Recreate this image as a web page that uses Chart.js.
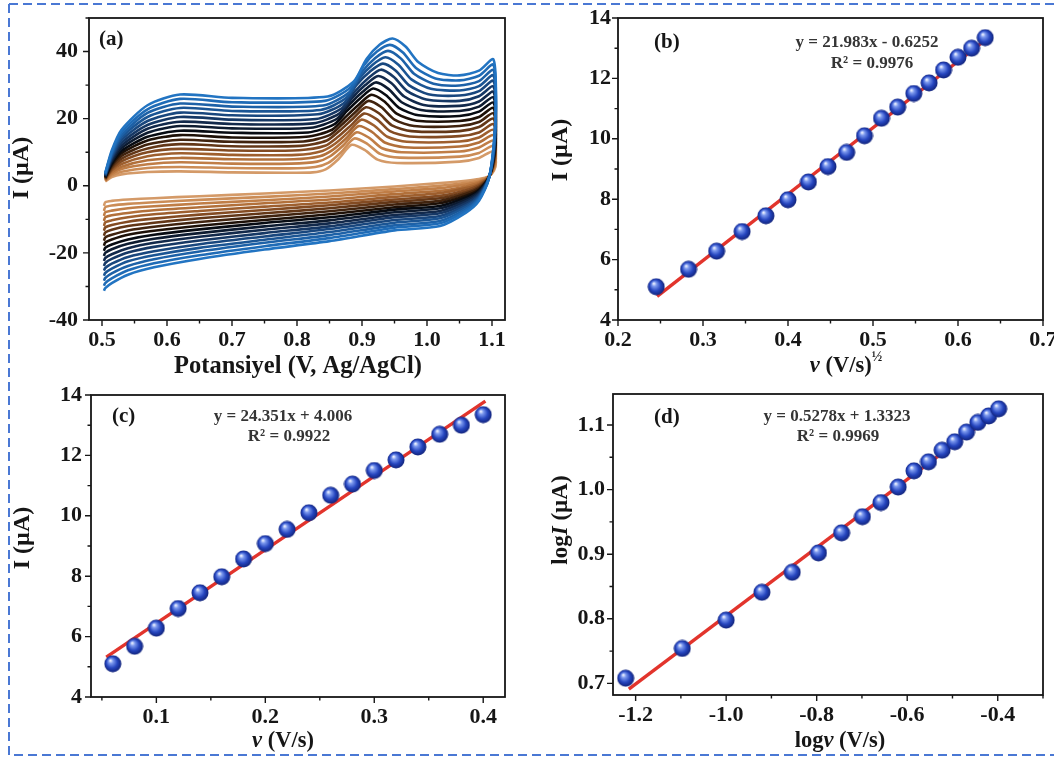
<!DOCTYPE html>
<html lang="tr">
<head>
<meta charset="utf-8">
<title>Döngüsel voltametri ve tarama hızı</title>
<script src="https://cdn.jsdelivr.net/npm/chart.js@4.4.1/dist/chart.umd.min.js"></script>
<style>
    html, body { margin: 0; padding: 0; background: #fff; }
    body { width: 1054px; height: 757px; position: relative; overflow: hidden; }
    canvas { position: absolute; }
</style>
</head>
<body>
<canvas id="grafikA" width="530" height="385" style="left:0;top:0"></canvas>
<canvas id="grafikB" width="524" height="385" style="left:530px;top:0"></canvas>
<canvas id="grafikC" width="530" height="377" style="left:0;top:380px"></canvas>
<canvas id="grafikD" width="524" height="377" style="left:530px;top:380px"></canvas>
<canvas id="cerceve" width="1054" height="757" style="left:0;top:0;pointer-events:none"></canvas>
<script>
// tarama hızları ve anodik pik akımları
const taramaHizlari = [0.06, 0.08, 0.10, 0.12, 0.14, 0.16, 0.18, 0.20, 0.22, 0.24, 0.26, 0.28, 0.30, 0.32, 0.34, 0.36, 0.38, 0.40];
const hizKarekok = [0.245, 0.283, 0.316, 0.346, 0.374, 0.400, 0.424, 0.447, 0.469, 0.490, 0.510, 0.529, 0.548, 0.566, 0.583, 0.600, 0.616, 0.632];
const hizLog = [-1.222, -1.097, -1.000, -0.921, -0.854, -0.796, -0.745, -0.699, -0.658, -0.620, -0.585, -0.553, -0.523, -0.495, -0.469, -0.444, -0.420, -0.398];
const pikAkim = [5.10, 5.68, 6.28, 6.93, 7.45, 7.98, 8.57, 9.08, 9.55, 10.10, 10.68, 11.05, 11.50, 11.85, 12.28, 12.70, 13.00, 13.35];
const pikAkimLog = [0.708, 0.754, 0.798, 0.841, 0.872, 0.902, 0.933, 0.958, 0.980, 1.004, 1.029, 1.043, 1.061, 1.074, 1.089, 1.104, 1.114, 1.125];

// doğrusal uydurmalar: eğim, kesim, R², çizgi aralığı
const uydurmaB = { egim: 21.983, kesim: -0.6252, r2: "0.9976", aralik: [0.246, 0.631] };
const uydurmaC = { egim: 24.351, kesim: 4.006, r2: "0.9922", aralik: [0.054, 0.402] };
const uydurmaD = { egim: 0.5278, kesim: 1.3323, r2: "0.9969", aralik: [-1.215, -0.399] };

// CV eğrileri (0.06 → 0.40 V/s), ileri tarama başı
const cvIleriBasE = [0.505, 0.515, 0.53, 0.57, 0.62, 0.70];
const cvIleriBasI = [
    [1.3, 2.6, 3.4, 4.1, 4.3, 4.0],
    [1.4, 3.1, 4.2, 5.3, 5.6, 5.3],
    [1.6, 3.5, 5.0, 6.4, 7.0, 6.6],
    [1.7, 4.0, 5.7, 7.6, 8.3, 7.9],
    [1.9, 4.5, 6.5, 8.8, 9.7, 9.2],
    [2.0, 4.9, 7.3, 10.0, 11.0, 10.5],
    [2.2, 5.4, 8.1, 11.1, 12.4, 11.8],
    [2.3, 5.9, 8.9, 12.3, 13.7, 13.1],
    [2.5, 6.3, 9.7, 13.5, 15.1, 14.4],
    [2.6, 6.8, 10.4, 14.6, 16.4, 15.8],
    [2.8, 7.2, 11.2, 15.8, 17.8, 17.1],
    [2.9, 7.7, 12.0, 17.0, 19.1, 18.4],
    [3.1, 8.2, 12.8, 18.1, 20.5, 19.7],
    [3.2, 8.6, 13.6, 19.3, 21.8, 21.0],
    [3.4, 9.1, 14.4, 20.5, 23.2, 22.3],
    [3.5, 9.6, 15.1, 21.7, 24.5, 23.6],
    [3.7, 10.0, 15.9, 22.8, 25.9, 24.9],
    [3.8, 10.5, 16.7, 24.0, 27.2, 26.2]
];
// oksidasyon piki çevresi (her eğrinin kendi potansiyelleri)
const cvPikE = [
    [0.784, 0.824, 0.844, 0.864, 0.884, 0.904, 0.924, 0.954],
    [0.788, 0.828, 0.848, 0.868, 0.888, 0.908, 0.928, 0.958],
    [0.791, 0.831, 0.851, 0.871, 0.891, 0.911, 0.931, 0.961],
    [0.795, 0.835, 0.855, 0.875, 0.895, 0.915, 0.935, 0.965],
    [0.799, 0.839, 0.859, 0.879, 0.899, 0.919, 0.939, 0.969],
    [0.803, 0.843, 0.863, 0.883, 0.903, 0.923, 0.943, 0.973],
    [0.806, 0.846, 0.866, 0.886, 0.906, 0.926, 0.946, 0.976],
    [0.810, 0.850, 0.870, 0.890, 0.910, 0.930, 0.950, 0.980],
    [0.814, 0.854, 0.874, 0.894, 0.914, 0.934, 0.954, 0.984],
    [0.817, 0.857, 0.877, 0.897, 0.917, 0.937, 0.957, 0.987],
    [0.821, 0.861, 0.881, 0.901, 0.921, 0.941, 0.961, 0.991],
    [0.825, 0.865, 0.885, 0.905, 0.925, 0.945, 0.965, 0.995],
    [0.829, 0.869, 0.889, 0.909, 0.929, 0.949, 0.969, 0.999],
    [0.832, 0.872, 0.892, 0.912, 0.932, 0.952, 0.972, 1.002],
    [0.836, 0.876, 0.896, 0.916, 0.936, 0.956, 0.976, 1.006],
    [0.840, 0.880, 0.900, 0.920, 0.940, 0.960, 0.980, 1.010],
    [0.843, 0.883, 0.903, 0.923, 0.943, 0.963, 0.983, 1.013],
    [0.847, 0.887, 0.907, 0.927, 0.947, 0.967, 0.987, 1.017]
];
const cvPikI = [
    [3.9, 4.0, 4.9, 8.0, 12.2, 10.7, 7.8, 6.8],
    [5.2, 5.6, 6.8, 10.0, 14.1, 12.5, 9.5, 8.4],
    [6.6, 7.2, 8.8, 12.0, 15.9, 14.3, 11.2, 10.0],
    [7.9, 8.8, 10.7, 14.0, 17.8, 16.1, 12.9, 11.5],
    [9.2, 10.4, 12.6, 16.0, 19.7, 17.9, 14.6, 13.1],
    [10.6, 11.9, 14.6, 18.0, 21.5, 19.8, 16.3, 14.7],
    [11.9, 13.5, 16.5, 20.0, 23.4, 21.6, 18.0, 16.3],
    [13.2, 15.1, 18.4, 22.0, 25.3, 23.4, 19.7, 17.8],
    [14.6, 16.7, 20.4, 24.0, 27.1, 25.2, 21.4, 19.4],
    [15.9, 18.3, 22.3, 26.0, 29.0, 27.0, 23.2, 21.0],
    [17.3, 19.9, 24.3, 28.0, 30.8, 28.8, 24.9, 22.6],
    [18.6, 21.5, 26.2, 30.0, 32.7, 30.6, 26.6, 24.1],
    [19.9, 23.1, 28.1, 32.0, 34.6, 32.4, 28.3, 25.7],
    [21.3, 24.6, 30.1, 34.0, 36.4, 34.3, 30.0, 27.3],
    [22.6, 26.2, 32.0, 36.0, 38.3, 36.1, 31.7, 28.9],
    [23.9, 27.8, 33.9, 38.0, 40.2, 37.9, 33.4, 30.4],
    [25.3, 29.4, 35.9, 40.0, 42.0, 39.7, 35.1, 32.0],
    [26.6, 31.0, 37.8, 42.0, 43.9, 41.5, 36.8, 33.6]
];
// ileri tarama sonu (dönüş noktasına kadar)
const cvIleriSonE = [1.05, 1.08, 1.102];
const cvIleriSonI = [
    [7.2, 8.3, 10.3], [8.7, 9.8, 11.9], [10.2, 11.4, 13.5], [11.7, 12.9, 15.1],
    [13.2, 14.4, 16.7], [14.8, 15.9, 18.4], [16.3, 17.5, 20.0], [17.8, 19.0, 21.6],
    [19.3, 20.5, 23.2], [20.8, 22.1, 24.8], [22.3, 23.6, 26.4], [23.8, 25.1, 28.0],
    [25.3, 26.7, 29.6], [26.9, 28.2, 31.3], [28.4, 29.7, 32.9], [29.9, 31.2, 34.5],
    [31.4, 32.8, 36.1], [32.9, 34.3, 37.7]
];
// geri tarama
const cvGeriE = [1.106, 1.103, 1.095, 1.08, 1.06, 1.02, 0.95, 0.85, 0.75, 0.65, 0.58, 0.54, 0.515, 0.505, 0.503];
const cvGeriI = [
    [7.0, 4.5, 2.8, 2.0, 1.5, 0.8, -0.2, -1.4, -2.3, -3.1, -3.7, -4.1, -4.5, -4.9, -6.0],
    [8.2, 5.0, 2.8, 1.6, 0.9, 0.0, -1.0, -2.3, -3.3, -4.2, -4.9, -5.4, -5.9, -6.4, -7.5],
    [9.4, 5.5, 2.7, 1.2, 0.4, -0.7, -1.7, -3.2, -4.3, -5.3, -6.1, -6.7, -7.4, -7.9, -9.0],
    [10.5, 6.0, 2.7, 0.9, -0.2, -1.5, -2.5, -4.1, -5.2, -6.4, -7.3, -8.1, -8.8, -9.4, -10.5],
    [11.7, 6.5, 2.6, 0.5, -0.7, -2.2, -3.3, -5.0, -6.2, -7.5, -8.5, -9.4, -10.3, -10.9, -12.0],
    [12.9, 7.0, 2.6, 0.1, -1.3, -3.0, -4.1, -5.8, -7.2, -8.6, -9.8, -10.7, -11.7, -12.4, -13.4],
    [14.1, 7.5, 2.5, -0.3, -1.9, -3.7, -4.8, -6.7, -8.2, -9.7, -11.0, -12.0, -13.1, -13.9, -14.9],
    [15.2, 8.0, 2.5, -0.7, -2.4, -4.5, -5.6, -7.6, -9.2, -10.8, -12.2, -13.3, -14.6, -15.4, -16.4],
    [16.4, 8.5, 2.4, -1.1, -3.0, -5.2, -6.4, -8.5, -10.2, -11.9, -13.4, -14.6, -16.0, -16.9, -17.9],
    [17.6, 9.0, 2.4, -1.4, -3.5, -6.0, -7.1, -9.4, -11.1, -13.0, -14.6, -16.0, -17.5, -18.5, -19.4],
    [18.8, 9.5, 2.3, -1.8, -4.1, -6.7, -7.9, -10.3, -12.1, -14.1, -15.8, -17.3, -18.9, -20.0, -20.9],
    [19.9, 10.0, 2.3, -2.2, -4.6, -7.5, -8.7, -11.2, -13.1, -15.2, -17.0, -18.6, -20.4, -21.5, -22.4],
    [21.1, 10.5, 2.2, -2.6, -5.2, -8.2, -9.4, -12.1, -14.1, -16.3, -18.2, -19.9, -21.8, -23.0, -23.9],
    [22.3, 11.0, 2.2, -3.0, -5.8, -9.0, -10.2, -12.9, -15.1, -17.4, -19.5, -21.2, -23.2, -24.5, -25.3],
    [23.5, 11.5, 2.1, -3.4, -6.3, -9.7, -11.0, -13.8, -16.1, -18.5, -20.7, -22.5, -24.7, -26.0, -26.8],
    [24.6, 12.0, 2.1, -3.7, -6.9, -10.5, -11.8, -14.7, -17.0, -19.6, -21.9, -23.9, -26.1, -27.5, -28.3],
    [25.8, 12.5, 2.0, -4.1, -7.4, -11.2, -12.5, -15.6, -18.0, -20.7, -23.1, -25.2, -27.6, -29.0, -29.8],
    [27.0, 13.0, 2.0, -4.5, -8.0, -12.0, -13.3, -16.5, -19.0, -21.8, -24.3, -26.5, -29.0, -30.5, -31.3]
];

// kahverengi → siyah → mavi
const cvRenkler = [
    "#d49a68", "#cb8c56", "#c07e47", "#b2703a", "#9e5f2e", "#834b22", "#633717", "#40230e", "#1d1007",
    "#070b12", "#0d1b30", "#12294b", "#163865", "#19477e", "#1b5594", "#1d61a7", "#1f6bb6", "#2274c2"
];

const SERIF = '"Liberation Serif", "Times New Roman", serif';
const YAZI_RENGI = "#161616";

function cvNoktalari(k) {
    const noktalar = [];
    cvIleriBasE.forEach((e, j) => noktalar.push({ x: e, y: cvIleriBasI[k][j] }));
    cvPikE[k].forEach((e, j) => noktalar.push({ x: e, y: cvPikI[k][j] }));
    cvIleriSonE.forEach((e, j) => noktalar.push({ x: e, y: cvIleriSonI[k][j] }));
    cvGeriE.forEach((e, j) => noktalar.push({ x: e, y: cvGeriI[k][j] }));
    return noktalar;
}

function noktaCiftleri(xler, yler) {
    return xler.map((x, i) => ({ x, y: yler[i] }));
}

function uydurmaCizgisi(u) {
    return u.aralik.map(x => ({ x, y: u.egim * x + u.kesim }));
}

function denklemYazisi(u) {
    const isaret = u.kesim < 0 ? "-" : "+";
    return `y = ${u.egim}x ${isaret} ${Math.abs(u.kesim)}`;
}

// parlak mavi küre işaretçi
function kureOlustur(cap) {
    const c = document.createElement("canvas");
    c.width = cap;
    c.height = cap;
    const g = c.getContext("2d");
    const r = cap / 2;
    const grad = g.createRadialGradient(r * 0.72, r * 0.62, r * 0.05, r, r, r);
    grad.addColorStop(0, "#eef2ff");
    grad.addColorStop(0.22, "#7b98ee");
    grad.addColorStop(0.6, "#2545bf");
    grad.addColorStop(1, "#0f1f72");
    g.fillStyle = grad;
    g.beginPath();
    g.arc(r, r, r - 0.5, 0, Math.PI * 2);
    g.fill();
    return c;
}
const kure = kureOlustur(18);

function buyukMu(deger, adim) {
    const r = deger / adim;
    return Math.abs(r - Math.round(r)) < 1e-6;
}

function eksen(min, max, adim, buyukAdim, ondalik, boyut, dolgu, yatay) {
    return {
        type: "linear",
        min, max,
        position: yatay ? "bottom" : "left",
        grid: { display: false, drawTicks: false },
        border: { display: false },
        ticks: {
            stepSize: adim,
            autoSkip: false,
            includeBounds: false,
            maxRotation: 0,
            padding: dolgu,
            color: YAZI_RENGI,
            font: { family: SERIF, size: 22, weight: "bold" },
            callback: v => buyukMu(v, buyukAdim) ? v.toFixed(ondalik) : ""
        },
        afterFit(scale) {
            if (yatay) scale.height = boyut;
            else scale.width = boyut;
            scale.paddingLeft = 0;
            scale.paddingRight = 0;
            scale.paddingTop = 0;
            scale.paddingBottom = 0;
        }
    };
}

// eksen başlıkları, panel harfleri, denklemler
const panelAyarlari = {
    grafikA: {
        xBuyuk: 0.1, yBuyuk: 20,
        xBaslik: [{ m: "Potansiyel (V, Ag/AgCl)" }], xKonum: [298, 367], xBoyut: 24.5,
        yBaslik: [{ m: "I (µA)" }], yKonum: [22, 168], yBoyut: 24,
        etiket: "(a)", etiketKonum: [99, 40]
    },
    grafikB: {
        xBuyuk: 0.1, yBuyuk: 2,
        xBaslik: [{ m: "ν", i: true }, { m: " (V/s)" }, { m: "½", s: true }], xKonum: [316, 366], xBoyut: 22.5,
        yBaslik: [{ m: "I (µA)" }], yKonum: [31, 150], yBoyut: 24,
        etiket: "(b)", etiketKonum: [124, 43],
        uydurma: uydurmaB, denklemKonum: [[337, 43], [342, 64]]
    },
    grafikC: {
        xBuyuk: 0.1, yBuyuk: 2,
        xBaslik: [{ m: "ν", i: true }, { m: " (V/s)" }], xKonum: [283, 361], xBoyut: 22.5,
        yBaslik: [{ m: "I (µA)" }], yKonum: [23, 158], yBoyut: 24,
        etiket: "(c)", etiketKonum: [112, 37],
        uydurma: uydurmaC, denklemKonum: [[283, 37], [289, 57]]
    },
    grafikD: {
        xBuyuk: 0.2, yBuyuk: 0.1,
        xBaslik: [{ m: "log" }, { m: "ν", i: true }, { m: " (V/s)" }], xKonum: [310, 361], xBoyut: 22.5,
        yBaslik: [{ m: "log" }, { m: "I", i: true }, { m: " (µA)" }], yKonum: [31, 140], yBoyut: 23,
        etiket: "(d)", etiketKonum: [124, 38],
        uydurma: uydurmaD, denklemKonum: [[307, 37], [308, 57]]
    }
};

function parcaFontu(p, boyut) {
    const b = p.s ? Math.round(boyut * 0.6) : boyut;
    return `${p.i ? "italic " : ""}bold ${b}px ${SERIF}`;
}

function zenginYazi(ctx, parcalar, boyut, cx, cy, dikey) {
    let toplam = 0;
    const genislikler = parcalar.map(p => {
        ctx.font = parcaFontu(p, boyut);
        const w = ctx.measureText(p.m).width;
        toplam += w;
        return w;
    });
    ctx.save();
    ctx.translate(cx, cy);
    if (dikey) ctx.rotate(-Math.PI / 2);
    ctx.textAlign = "left";
    ctx.textBaseline = "middle";
    let x = -toplam / 2;
    parcalar.forEach((p, k) => {
        ctx.font = parcaFontu(p, boyut);
        ctx.fillText(p.m, x, p.s ? -boyut * 0.38 : 0);
        x += genislikler[k];
    });
    ctx.restore();
}

const panelEklentisi = {
    id: "panelSusu",
    afterDraw(chart) {
        const o = panelAyarlari[chart.canvas.id];
        const ctx = chart.ctx;
        const a = chart.chartArea;
        const sx = chart.scales.x;
        const sy = chart.scales.y;

        ctx.save();
        ctx.strokeStyle = YAZI_RENGI;
        ctx.lineWidth = 1.8;
        ctx.strokeRect(a.left, a.top, a.right - a.left, a.bottom - a.top);

        ctx.lineWidth = 1.4;
        ctx.beginPath();
        sx.ticks.forEach(t => {
            const px = sx.getPixelForValue(t.value);
            const uz = buyukMu(t.value, o.xBuyuk) ? 6 : 3.5;
            ctx.moveTo(px, a.bottom);
            ctx.lineTo(px, a.bottom + uz);
        });
        sy.ticks.forEach(t => {
            const py = sy.getPixelForValue(t.value);
            const uz = buyukMu(t.value, o.yBuyuk) ? 6 : 3.5;
            ctx.moveTo(a.left, py);
            ctx.lineTo(a.left - uz, py);
        });
        ctx.stroke();

        ctx.fillStyle = YAZI_RENGI;
        zenginYazi(ctx, o.xBaslik, o.xBoyut, o.xKonum[0], o.xKonum[1], false);
        zenginYazi(ctx, o.yBaslik, o.yBoyut, o.yKonum[0], o.yKonum[1], true);

        ctx.font = `bold 21px ${SERIF}`;
        ctx.textAlign = "left";
        ctx.textBaseline = "middle";
        ctx.fillText(o.etiket, o.etiketKonum[0], o.etiketKonum[1]);

        if (o.uydurma) {
            ctx.fillStyle = "#353535";
            ctx.font = `bold 17px ${SERIF}`;
            ctx.textAlign = "center";
            ctx.fillText(denklemYazisi(o.uydurma), o.denklemKonum[0][0], o.denklemKonum[0][1]);
            ctx.fillText(`R² = ${o.uydurma.r2}`, o.denklemKonum[1][0], o.denklemKonum[1][1]);
        }
        ctx.restore();
    }
};

function ortakAyarlar(dolgu, xEksen, yEksen) {
    return {
        responsive: false,
        animation: false,
        events: [],
        layout: { padding: dolgu },
        plugins: { legend: { display: false }, tooltip: { enabled: false } },
        scales: { x: xEksen, y: yEksen }
    };
}

function noktaSerisi(veri) {
    return {
        data: veri,
        pointStyle: kure,
        pointRadius: 9,
        showLine: false,
        order: 0
    };
}

function cizgiSerisi(u) {
    return {
        data: uydurmaCizgisi(u),
        showLine: true,
        borderColor: "#e2342c",
        borderWidth: 3.4,
        pointRadius: 0,
        order: 1
    };
}

// (a) CV eğrileri
new Chart(document.getElementById("grafikA"), {
    type: "scatter",
    data: {
        datasets: taramaHizlari.map((v, k) => ({
            label: `${v} V/s`,
            data: cvNoktalari(k),
            showLine: true,
            borderColor: cvRenkler[k],
            borderWidth: 2.6,
            pointRadius: 0,
            tension: 0.25,
            order: taramaHizlari.length - 1 - k
        }))
    },
    options: ortakAyarlar(
        { left: 0, top: 18, right: 25, bottom: 0 },
        eksen(0.48, 1.12, 0.05, 0.1, 1, 65, 7, true),
        eksen(-40, 50, 10, 20, 0, 89, 11, false)
    ),
    plugins: [panelEklentisi]
});

// (b) I – ν^1/2
new Chart(document.getElementById("grafikB"), {
    type: "scatter",
    data: { datasets: [noktaSerisi(noktaCiftleri(hizKarekok, pikAkim)), cizgiSerisi(uydurmaB)] },
    options: ortakAyarlar(
        { left: 0, top: 18, right: 11, bottom: 0 },
        eksen(0.2, 0.7, 0.05, 0.1, 1, 65, 7, true),
        eksen(4, 14, 1, 2, 0, 88, 7, false)
    ),
    plugins: [panelEklentisi]
});

// (c) I – ν
new Chart(document.getElementById("grafikC"), {
    type: "scatter",
    data: { datasets: [noktaSerisi(noktaCiftleri(taramaHizlari, pikAkim)), cizgiSerisi(uydurmaC)] },
    options: ortakAyarlar(
        { left: 0, top: 15, right: 25, bottom: 0 },
        eksen(0.04, 0.42, 0.05, 0.1, 1, 60, 7, true),
        eksen(4, 14, 1, 2, 0, 91, 9, false)
    ),
    plugins: [panelEklentisi]
});

// (d) logI – logν
new Chart(document.getElementById("grafikD"), {
    type: "scatter",
    data: { datasets: [noktaSerisi(noktaCiftleri(hizLog, pikAkimLog)), cizgiSerisi(uydurmaD)] },
    options: ortakAyarlar(
        { left: 0, top: 14, right: 11, bottom: 0 },
        eksen(-1.25, -0.30, 0.1, 0.2, 1, 62, 7, true),
        eksen(0.682, 1.148, 0.05, 0.1, 1, 83, 8, false)
    ),
    plugins: [panelEklentisi]
});

// kesikli mavi çerçeve
const cer = document.getElementById("cerceve").getContext("2d");
cer.strokeStyle = "#4a78d4";
cer.lineWidth = 2;
cer.setLineDash([9, 5]);
cer.beginPath();
cer.moveTo(9, 4);
cer.lineTo(1054, 4);
cer.moveTo(9, 4);
cer.lineTo(9, 755);
cer.lineTo(1054, 755);
cer.stroke();
</script>
</body>
</html>
